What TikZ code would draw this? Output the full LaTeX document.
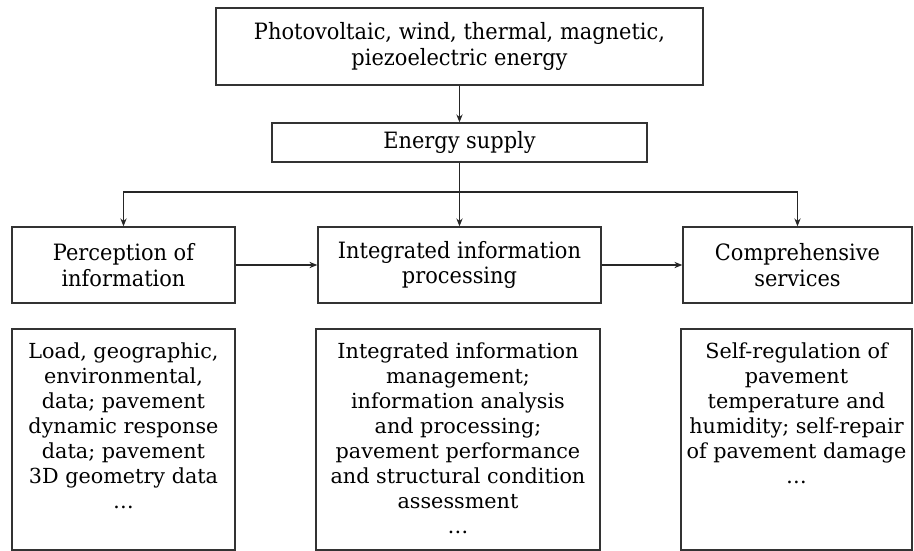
\documentclass[tikz,border=0pt]{standalone}
\usepackage{fontspec}
\setmainfont{DejaVu Serif}
\newfontfamily\narrowserif{DejaVu Serif}[FakeStretch=0.93]
\usepackage{tikz}
\usetikzlibrary{arrows.meta}
\tikzstyle{box}=[draw=black!80, line width=0.8pt, align=center, inner sep=0pt]
\tikzstyle{headbox}=[box, font=\narrowserif\fontsize{12.8}{14.6}\selectfont]
\tikzstyle{detailbox}=[box, font=\fontsize{11.8}{14.2}\selectfont]
\tikzstyle{link}=[draw=black!85, line width=0.6pt, -{Stealth[length=4.5pt,width=3.6pt]}]
\newcommand{\detailtext}[2]{\parbox[c][4.42cm][t]{#1}{\centering\vspace*{8pt}#2}}

\begin{document}
\begin{tikzpicture}[x=0.02cm,y=-0.02cm]
\useasboundingbox (0,0) rectangle (914,551);
% sources and supply
\node[headbox, minimum width=9.74cm, minimum height=1.54cm] (source) at (459.5,46.5) {Photovoltaic, wind, thermal, magnetic,\\piezoelectric energy};
\node[headbox, minimum width=7.5cm, minimum height=0.78cm] (supply) at (459.5,142.5) {Energy supply};
% three functions
\node[headbox, minimum width=4.46cm, minimum height=1.52cm] (percep) at (123.5,265) {Perception of\\information};
\node[headbox, minimum width=5.66cm, minimum height=1.52cm] (proc) at (459.5,265) {Integrated information\\processing};
\node[headbox, minimum width=4.58cm, minimum height=1.52cm] (serv) at (797.5,265) {Comprehensive\\services};
% details
\node[detailbox] (percepinfo) at (123.5,439.5) {\detailtext{4.46cm}{Load, geographic,\\environmental,\\data; pavement\\dynamic response\\data; pavement\\3D geometry data\\\dots}};
\node[detailbox] (procinfo) at (458,439.5) {\detailtext{5.68cm}{Integrated information\\management;\\information analysis\\and processing;\\pavement performance\\and structural condition\\assessment\\\dots}};
\node[detailbox] (servinfo) at (796.5,439.5) {\detailtext{4.62cm}{Self-regulation of\\pavement\\temperature and\\humidity; self-repair\\of pavement damage\\\dots}};
\coordinate (split) at (459.5,192);
\draw[link] (source) -- (supply);
\foreach \n in {percep,proc,serv} {
	\draw[link] (supply.south) -- (split) -| (\n.north);
}
\draw[link] (percep) -- (proc);
\draw[link] (proc) -- (serv);
\end{tikzpicture}
\end{document}
